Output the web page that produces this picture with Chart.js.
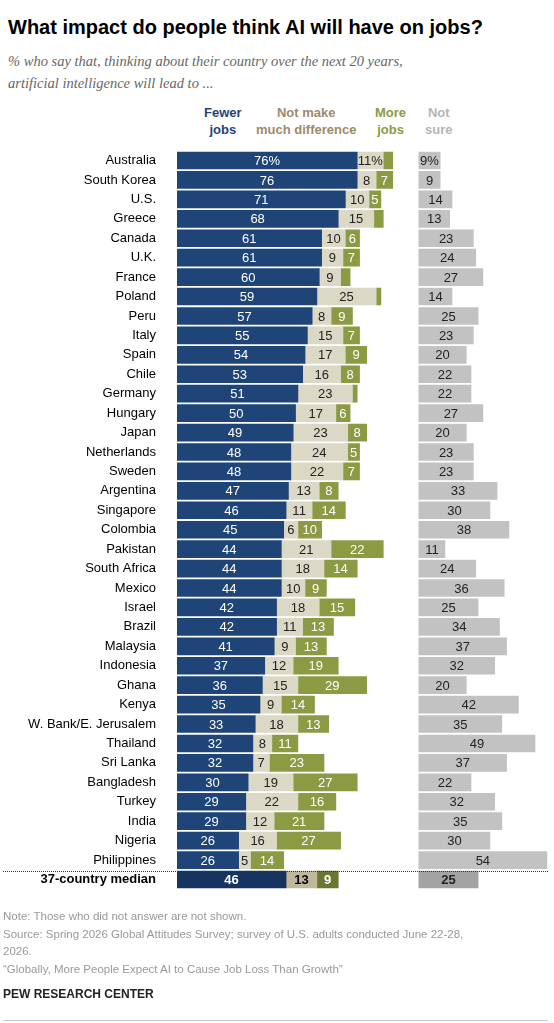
<!DOCTYPE html>
<html><head><meta charset="utf-8">
<script src="https://cdn.jsdelivr.net/npm/chart.js@4/dist/chart.umd.min.js"></script>
<style>
body{margin:0;width:554px;height:1023px;background:#fff;font-family:"Liberation Sans",Arial,sans-serif;position:relative;overflow:hidden}
.t{position:absolute;white-space:nowrap}
</style></head><body>
<div class="t" style="left:8px;top:16px;font-size:20px;font-weight:bold;color:#000">What impact do people think AI will have on jobs?</div>
<div class="t" style="left:8px;top:50px;font-size:14.5px;font-style:italic;color:#666;line-height:22px;font-family:'Liberation Serif',serif">% who say that, thinking about their country over the next 20 years,<br>artificial intelligence will lead to ...</div>
<div class="t" style="left:204px;top:104px;font-size:13px;font-weight:bold;color:#1f4478;text-align:center;line-height:17px">Fewer<br>jobs</div>
<div class="t" style="left:256px;top:104px;font-size:13px;font-weight:bold;color:#9d8a6a;text-align:center;line-height:17px">Not make<br>much difference</div>
<div class="t" style="left:375px;top:104px;font-size:13px;font-weight:bold;color:#8d9a44;text-align:center;line-height:17px">More<br>jobs</div>
<div class="t" style="left:425px;top:104px;font-size:13px;font-weight:bold;color:#b5b5b5;text-align:center;line-height:17px">Not<br>sure</div>
<div style="position:absolute;left:0;top:130px;width:554px;height:780px"><canvas id="c"></canvas></div>
<div style="position:absolute;left:3px;top:871px;width:545px;border-top:1px dotted #333"></div>
<div class="t" style="left:3px;top:908px;font-size:11.5px;color:#999;line-height:17.5px">Note: Those who did not answer are not shown.<br>Source: Spring 2026 Global Attitudes Survey; survey of U.S. adults conducted June 22-28,<br>2026.<br>“Globally, More People Expect AI to Cause Job Loss Than Growth”</div>
<div class="t" style="left:3px;top:987px;font-size:12px;font-weight:bold;color:#222">PEW RESEARCH CENTER</div>
<div style="position:absolute;left:3px;top:1020px;width:545px;border-top:1px solid #ccc"></div>
<script>
const categories=["Australia","South Korea","U.S.","Greece","Canada","U.K.","France","Poland","Peru","Italy","Spain","Chile","Germany","Hungary","Japan","Netherlands","Sweden","Argentina","Singapore","Colombia","Pakistan","South Africa","Mexico","Israel","Brazil","Malaysia","Indonesia","Ghana","Kenya","W. Bank/E. Jerusalem","Thailand","Sri Lanka","Bangladesh","Turkey","India","Nigeria","Philippines","37-country median"];
const fewerJobs=[76,76,71,68,61,61,60,59,57,55,54,53,51,50,49,48,48,47,46,45,44,44,44,42,42,41,37,36,35,33,32,32,30,29,29,26,26,46];
const noDifference=[11,8,10,15,10,9,9,25,8,15,17,16,23,17,23,24,22,13,11,6,21,18,10,18,11,9,12,15,9,18,8,7,19,22,12,16,5,13];
const moreJobs=[4,7,5,4,6,7,4,2,9,7,9,8,2,6,8,5,7,8,14,10,22,14,9,15,13,13,19,29,14,13,11,23,27,16,21,27,14,9];
const notSure=[9,9,14,13,23,24,27,14,25,23,20,22,22,27,20,23,23,33,30,38,11,24,36,25,34,37,32,20,42,35,49,37,22,32,35,30,54,25];
const GAP=102;
const last=categories.length-1;
const col=(n,m)=>categories.map((_,i)=>i===last?m:n);
const ds=[
 {data:fewerJobs.map(v=>[0,v]),vals:fewerJobs,backgroundColor:col("#1f4478","#173461"),txt:"#fff"},
 {data:noDifference.map((v,i)=>[fewerJobs[i],fewerJobs[i]+v]),vals:noDifference,backgroundColor:col("#dcd8c6","#c0b89a"),txt:"#222"},
 {data:moreJobs.map((v,i)=>[fewerJobs[i]+noDifference[i],fewerJobs[i]+noDifference[i]+v]),vals:moreJobs,backgroundColor:col("#8d9a44","#6b7730"),txt:"#fff",min:5},
 {data:notSure.map(v=>[GAP,GAP+v]),vals:notSure,backgroundColor:col("#c2c2c2","#a3a3a3"),txt:"#222"}
].map(d=>Object.assign(d,{barThickness:17,grouped:false,borderWidth:0}));
const labelPlugin={id:'lbl',afterDatasetsDraw(ch){const c=ch.ctx;ch.data.datasets.forEach((d,di)=>{ch.getDatasetMeta(di).data.forEach((el,i)=>{const v=d.vals[i];if(d.min&&v<d.min&&i!==last)return;let s=String(v);if(i===0)s+="%";c.save();c.font=(i===last?"bold ":"")+"13px 'Liberation Sans',Arial";c.fillStyle=(i===last&&di===1)?"#000":d.txt;c.textAlign="center";c.textBaseline="middle";const x0=Math.min(el.x,el.base),x1=Math.max(el.x,el.base);c.fillText(s,(x0+x1)/2,el.y+1);c.restore();});});}};
new Chart(document.getElementById('c'),{type:'bar',data:{labels:categories,datasets:ds},
options:{indexAxis:'y',responsive:true,maintainAspectRatio:false,animation:false,layout:{padding:0},
plugins:{legend:{display:false},tooltip:{enabled:false}},
scales:{x:{display:false,min:0,max:159},
y:{grid:{display:false},border:{display:false},afterFit(s){s.width=177;},
ticks:{padding:13,color:"#000",font:c=>({size:13,family:"'Liberation Sans',Arial",weight:c.index===last?'bold':'normal'})}}}},
plugins:[labelPlugin]});
</script></body></html>
